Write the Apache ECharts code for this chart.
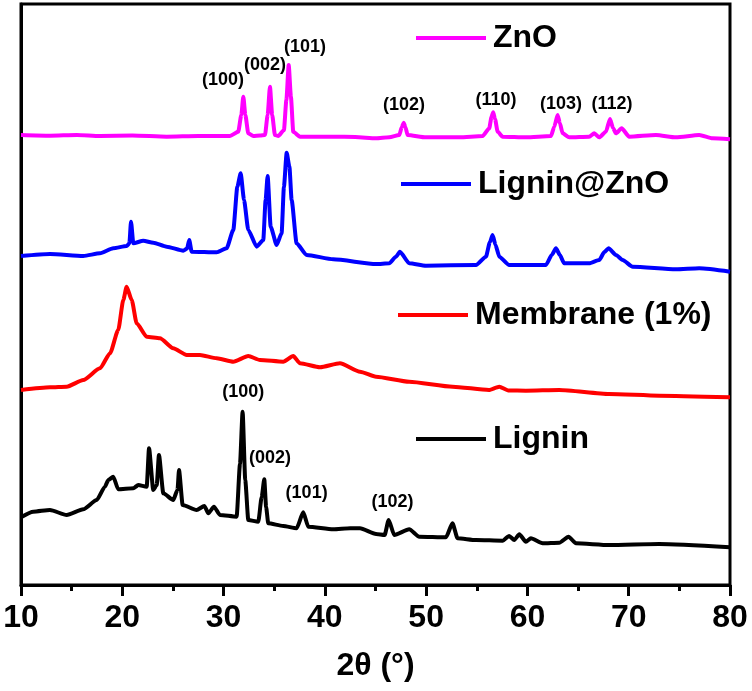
<!DOCTYPE html>
<html>
<head>
<meta charset="utf-8">
<script src="https://cdn.jsdelivr.net/npm/echarts@6/dist/echarts.min.js"></script>
<style>html,body{margin:0;padding:0;background:#fff}#c{width:752px;height:691px}</style>
</head>
<body>
<div id="c"></div>
<script>
// 2θ (deg) vs intensity (a.u., stacked offsets as drawn)
const seriesNames = ['ZnO', 'Lignin@ZnO', 'Membrane (1%)', 'Lignin'];
const seriesColors = ['#ff00ff', '#0000ff', '#ff0000', '#000000'];

const znoData = [[10,450],[12.86,449.3],[15.5,450],[17.8,449],[21,449.5],[24.38,448.3],[27.5,449],[30.63,449],[31.45,453.3],[31.75,470],[31.95,488.3],[32.15,470],[32.44,451.7],[32.93,449],[33.6,449.5],[34.09,450],[34.35,470],[34.58,498.3],[34.8,470],[35.07,450],[35.4,449],[35.96,455],[36.2,485],[36.43,520],[36.65,488],[36.88,453.3],[37.54,448.3],[40.83,448.3],[43,448],[45.05,446.7],[46.36,447.7],[47.35,450],[47.6,458],[47.78,462.3],[47.95,458],[48.17,450],[49.98,447.7],[53.27,447.7],[55.58,449],[56.23,456.7],[56.45,468],[56.62,472.7],[56.8,466],[57.06,453.3],[57.55,448.3],[59.85,447.7],[62.32,449],[62.65,458.3],[62.98,470],[63.2,462],[63.47,451.7],[64.13,447.7],[66.1,448.3],[66.6,451.7],[67.09,447.7],[67.75,453.3],[68.15,466],[68.45,457],[68.74,451.7],[69.3,456.7],[70.05,448.3],[72.69,450],[74.66,447.7],[76.96,450],[78.28,446.7],[80,445.7]];

const ligZnoData = [[10,329],[12.86,331],[16.15,329],[17.8,331.7],[19.11,336.7],[20.43,339],[20.7,341.7],[20.86,363.3],[21.09,341.7],[22.07,344.3],[23.06,342.3],[24.38,338.3],[26.02,334.3],[26.4,336.5],[26.61,345],[26.85,333.3],[29.32,332.7],[30.3,336.7],[30.96,355],[31.36,398.3],[31.69,411.7],[32.02,385],[32.44,355],[33.27,338.3],[33.92,345],[34.15,385],[34.35,409],[34.65,358.3],[35.24,340],[35.73,351.7],[35.96,398.3],[36.23,432.3],[36.5,418.3],[36.72,385],[37.21,341.7],[38.2,330],[40.83,325.7],[45.05,321],[46.36,321.7],[47.02,328.3],[47.41,333.3],[48.33,321.7],[49.98,319.3],[54.92,320],[55.9,328.3],[56.3,343],[56.56,350],[56.85,340],[57.22,328.3],[58.2,320],[61.83,320],[62.4,330],[62.82,336.7],[63.2,330],[63.63,321.7],[66.1,321.7],[67.09,325],[67.6,333],[68.01,336.7],[68.74,330],[69.4,325],[70.39,318.3],[74.66,315.7],[76.96,316.7],[80,313.3]];

const membraneData = [[10,195],[12.86,197.7],[14.51,198.3],[16.15,205],[17.8,216.7],[18.79,231.7],[19.6,255],[20.1,285],[20.43,298.3],[20.93,285],[21.42,261.7],[22.41,248.3],[23.72,246.7],[25.03,236.7],[26.36,230],[27.67,230],[29.32,226.7],[30.96,223.3],[32.44,229],[33.59,225],[35.89,223.3],[36.88,229],[37.54,221.7],[39.52,217.7],[41.49,221.7],[43.47,213.3],[45.05,208.3],[48.33,203.3],[52.61,198.3],[56.2,195],[57.22,198.3],[58.1,194.5],[59.85,194.3],[63.14,195],[68.08,191],[73.01,189.3],[80,187.7]];

const ligninData = [[10,67.7],[11.21,73.3],[12.86,75],[14.51,70],[16.15,75.7],[17.47,85],[18.29,98.3],[18.62,105],[19.11,108.3],[19.6,95.7],[21.09,96.7],[21.58,100],[22.41,98.3],[22.64,136.7],[23.06,95],[23.4,100],[23.62,130],[24.05,91.7],[25.03,85],[25.45,95],[25.6,115],[25.96,80],[27.34,75],[28.1,79],[28.5,71.7],[29.05,78.3],[29.64,70],[31.29,68.3],[31.62,121],[31.88,173.3],[32.14,105],[32.44,65],[33.43,63.3],[33.76,88],[34.02,105.7],[34.2,78],[34.41,61.7],[35.89,59],[37.21,56.7],[37.87,72.7],[38.36,58.3],[40.83,55.7],[42.5,56.7],[43.47,56.7],[45.05,51],[45.9,50],[46.3,65],[46.85,50],[48.33,55.7],[49.32,48.3],[51.96,47.7],[52.6,61.7],[53.1,46.7],[54.92,45],[57.55,44.3],[58.2,49],[58.7,45],[59.2,50.7],[59.85,43.3],[60.34,46.7],[61.5,41.7],[63.14,42.3],[64.06,48.3],[64.79,41.7],[68.08,40],[73.01,41],[80,37.7]];

// peak index labels: [2θ, intensity, text]
const znoPeakLabels = [[29.94,505,'(100)'],[34.09,520,'(002)'],[38.04,538,'(101)'],[47.81,480,'(102)'],[56.89,485,'(110)'],[63.31,481,'(103)'],[68.34,481,'(112)']];
const ligninPeakLabels = [[31.94,193.3,'(100)'],[34.58,126.7,'(002)'],[38.2,91.7,'(101)'],[46.67,83.3,'(102)']];

const xTicks = [10,20,30,40,50,60,70,80];

const FONT = '"Liberation Sans", Arial, Helvetica, sans-serif';
const chart = echarts.init(document.getElementById('c'), null, {renderer: 'canvas'});

const dataSets = [znoData, ligZnoData, membraneData, ligninData];
const legendPos = [[416, 22], [401, 168], [398, 299], [416, 423]];

const series = seriesNames.map((n, i) => ({
  name: n, type: 'line', data: dataSets[i], showSymbol: false, symbol: 'none',
  smooth: 0.2, smoothMonotone: 'x',
  lineStyle: {color: seriesColors[i], width: 4, join: 'round'}, itemStyle: {color: seriesColors[i]},
  z: 3
}));
const labelSeries = (arr) => ({
  type: 'scatter', data: arr, symbolSize: 0, silent: true, z: 5,
  itemStyle: {color: 'rgba(0,0,0,0)', opacity: 1},
  label: {show: true, position: 'inside', formatter: p => p.data[2],
    color: '#000', opacity: 1, textBorderWidth: 0, fontSize: 18, fontWeight: 'bold', fontFamily: FONT}
});
series.push(labelSeries(znoPeakLabels));
series.push(labelSeries(ligninPeakLabels));

const legends = seriesNames.map((n, i) => ({
  data: [n], left: legendPos[i][0], top: legendPos[i][1], padding: 0,
  icon: 'rect', itemWidth: 70, itemHeight: 4, selectedMode: false,
  textStyle: {fontSize: 32, fontWeight: 'bold', fontFamily: FONT, color: '#000', padding: [0,0,0,2]}
}));

chart.setOption({
  animation: false,
  backgroundColor: '#fff',
  grid: {left: 21, right: 22, top: 4, bottom: 106, show: true, borderColor: '#000', borderWidth: 3, backgroundColor: 'transparent'},
  legend: legends,
  xAxis: {
    type: 'value', min: xTicks[0], max: xTicks[xTicks.length - 1], interval: 10,
    name: '2θ (°)', nameLocation: 'middle', nameGap: 65,
    nameTextStyle: {fontSize: 32, fontWeight: 'bold', fontFamily: FONT, color: '#000'},
    axisLine: {show: true, lineStyle: {color: '#000', width: 3}},
    axisTick: {show: true, length: 11, lineStyle: {color: '#000', width: 3}},
    minorTick: {show: true, splitNumber: 2, length: 6, lineStyle: {color: '#000', width: 3}},
    axisLabel: {fontSize: 32, fontWeight: 'bold', fontFamily: FONT, color: '#000', margin: 17},
    splitLine: {show: false}
  },
  yAxis: {
    type: 'value', min: 0, max: 581,
    axisLine: {show: true, lineStyle: {color: '#000', width: 3}},
    axisTick: {show: false}, axisLabel: {show: false}, splitLine: {show: false}
  },
  series: series
});
</script>
</body>
</html>
